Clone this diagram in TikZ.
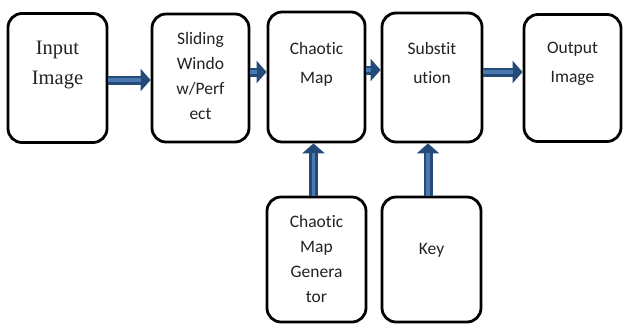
\documentclass[tikz,border=0pt]{standalone}
\usepackage{fontspec}
\setmainfont{Carlito}[Ligatures={NoCommon,NoContextual}]
\newfontfamily\serifA{Liberation Serif}
\usetikzlibrary{arrows.meta}
\definecolor{arrdark}{HTML}{244A78}
\definecolor{arrlight}{HTML}{4A78B0}
\definecolor{txtc}{HTML}{222222}
\tikzset{
  box/.style={draw=black, line width=2.8pt, rounded corners=14pt, fill=white, inner sep=0pt},
  txt/.style={align=center, inner sep=0pt, anchor=north, text=txtc, font=\fontsize{17.5}{29}\selectfont},
  txtb/.style={txt, font=\fontsize{17.5}{25}\selectfont},
  arr/.style={line width=9pt, draw=arrdark, -{Triangle[length=10pt,width=22pt]},
    postaction={draw=arrlight, line width=3.5pt, -, shorten >=10pt, shorten <=0pt}},
}
\begin{document}
\begin{tikzpicture}[x=1pt,y=1pt]
\useasboundingbox (0,0) rectangle (623,-325);
% boxes
\node[box, minimum width=99pt, minimum height=129pt] (in) at (57.5,-78) {};
\node[box, minimum width=97pt, minimum height=128pt] (sw) at (200.5,-78) {};
\node[box, minimum width=97pt, minimum height=130pt] (cm) at (316.5,-77) {};
\node[box, minimum width=100pt, minimum height=129pt] (sub) at (432,-77.5) {};
\node[box, minimum width=97pt, minimum height=127pt] (out) at (572.5,-78) {};
\node[box, minimum width=99pt, minimum height=125pt] (gen) at (316.5,-259.5) {};
\node[box, minimum width=99pt, minimum height=125pt] (key) at (431.5,-259.5) {};
% texts
\node[txt, font=\serifA\fontsize{20.5}{30}\selectfont] (tin) at (57.5,-41) {Input\\Image};
\node[txtb] (tsw) at (200.5,-32) {Sliding\\Windo\\w/Perf\\ect};
\node[txt] (tcm) at (316.5,-42) {Chaotic\\Map};
\node[txt] (tsub) at (432,-42) {Substit\\ution};
\node[txt] (tout) at (572.5,-42) {Output\\Image};
\node[txtb] (tgen) at (316.5,-215) {Chaotic\\Map\\Genera\\tor};
\node[txt] (tkey) at (431.5,-243) {Key};
% arrows
\draw[arr] (in.east |- 0,-80) -- (sw.west |- 0,-80);
\draw[arr] (sw.east |- 0,-72) -- (cm.west |- 0,-72);
\draw[arr] (cm.east |- 0,-70) -- (sub.west |- 0,-70);
\draw[arr] (sub.east |- 0,-72) -- (out.west |- 0,-72);
\draw[arr] (gen.north -| 313.5,0) -- (cm.south -| 313.5,0);
\draw[arr] (key.north -| 428,0) -- (sub.south -| 428,0);
\end{tikzpicture}
\end{document}
